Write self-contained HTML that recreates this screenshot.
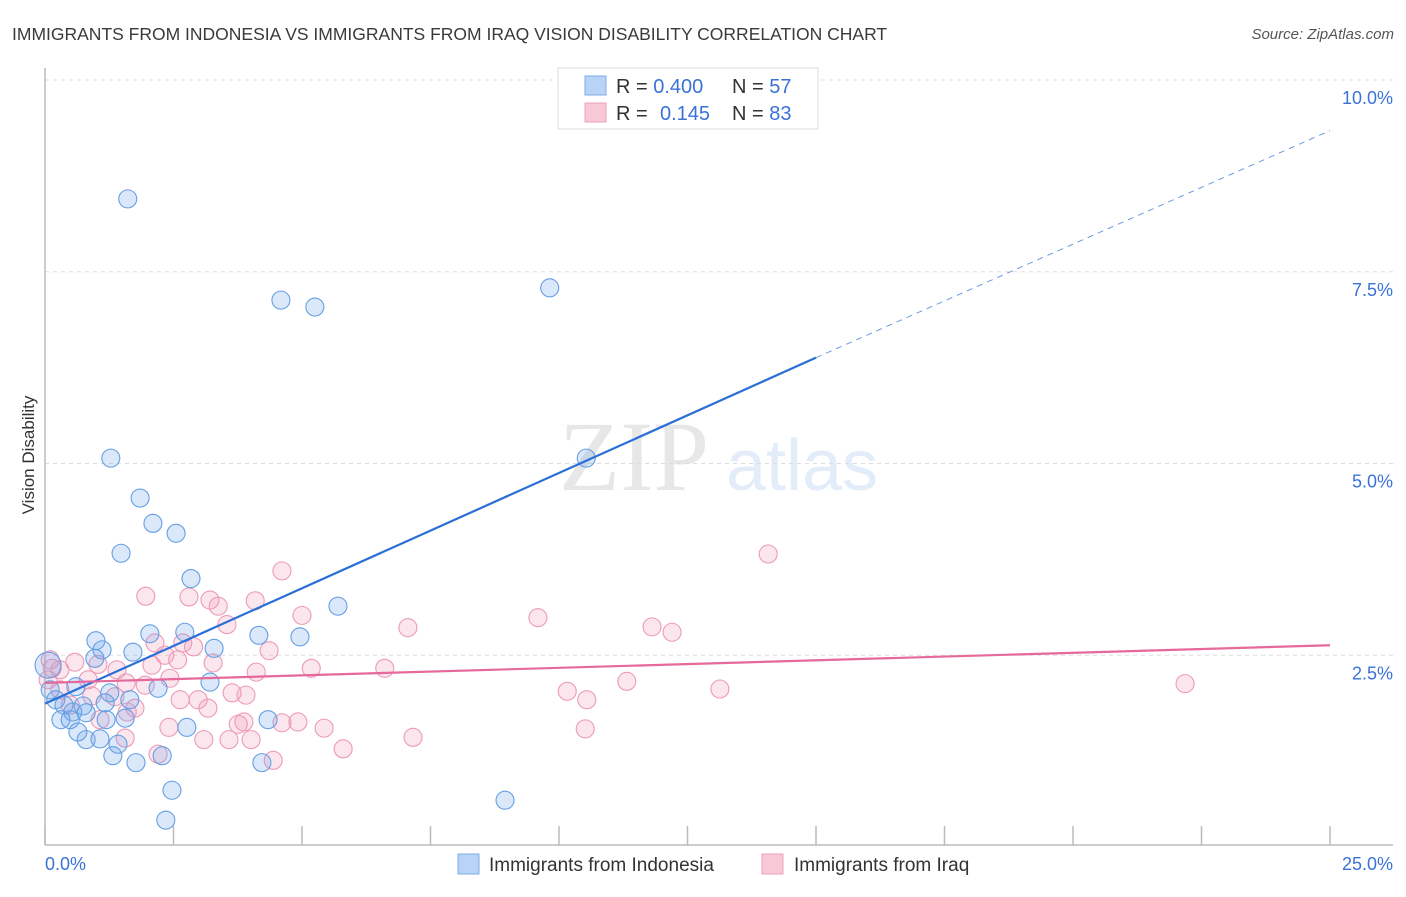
<!DOCTYPE html>
<html><head><meta charset="utf-8"><style>
body{margin:0;background:#fff;font-family:"Liberation Sans",sans-serif;}
svg text{font-family:"Liberation Sans",sans-serif;}
</style></head><body>
<svg id="chart" width="1406" height="892" viewBox="0 0 1406 892" xmlns="http://www.w3.org/2000/svg">
<text x="12" y="40" font-size="17.5" fill="#3a3a3a">IMMIGRANTS FROM INDONESIA VS IMMIGRANTS FROM IRAQ VISION DISABILITY CORRELATION CHART</text>
<text x="1394" y="39" font-size="15" fill="#555" font-style="italic" text-anchor="end">Source: ZipAtlas.com</text>
<g opacity="0.15">
<text x="634" y="490" font-size="100" style="font-family:'Liberation Serif',serif" fill="#666" text-anchor="middle">ZIP</text>
<text x="802" y="490" font-size="72" fill="#4a88dd" text-anchor="middle">atlas</text>
</g>
<g id="grid"></g>
<g id="axes"></g>
<g id="pts"></g>
<g id="trends"></g>
<text transform="translate(34,455) rotate(-90)" font-size="17" fill="#333" text-anchor="middle">Vision Disability</text>
<g>
<rect x="558" y="68" width="260" height="61" fill="#fff" stroke="#ddd"/>
<rect x="585" y="76" width="21" height="19" fill="#b8d3f5" stroke="#7eaee8"/>
<rect x="585" y="103" width="21" height="19" fill="#f9c8d6" stroke="#eea0ba"/>
<text x="616" y="93" font-size="20" fill="#333">R = <tspan fill="#3a72d8">0.400</tspan><tspan x="732">N = </tspan><tspan fill="#3a72d8">57</tspan></text>
<text x="616" y="120" font-size="20" fill="#333">R = <tspan x="660" fill="#3a72d8">0.145</tspan><tspan x="732">N = </tspan><tspan fill="#3a72d8">83</tspan></text>
</g>
<g>
<rect x="458" y="854" width="21" height="20" fill="#b8d3f5" stroke="#7eaee8"/>
<text x="489" y="871" font-size="19" fill="#333">Immigrants from Indonesia</text>
<rect x="762" y="854" width="21" height="20" fill="#f9c8d6" stroke="#eea0ba"/>
<text x="794" y="871" font-size="19" fill="#333">Immigrants from Iraq</text>
</g>
</svg>
<script>
const xTicks=[0,2.5,5,7.5,10,12.5,15,17.5,20,22.5,25];
const yTicks=[2.5,5,7.5,10];
const yTickLabels=["2.5%","5.0%","7.5%","10.0%"];
const xEndLabels=["0.0%","25.0%"];
const indoX=[1.61,4.59,5.25,9.82,1.28,10.53,1.85,2.10,2.55,1.48,2.84,5.70,2.04,2.72,4.16,4.96,0.99,1.11,3.29,1.71,0.97,0.06,3.21,2.20,1.26,1.65,0.60,0.10,0.21,0.37,0.74,1.17,1.56,0.54,0.80,0.31,1.19,2.76,4.34,0.64,0.80,1.07,1.42,1.32,1.77,2.28,4.22,2.47,2.35,8.95,0.49];
const indoY=[8.45,7.13,7.04,7.29,5.07,5.07,4.55,4.22,4.09,3.83,3.50,3.14,2.78,2.80,2.76,2.74,2.69,2.57,2.59,2.54,2.46,2.37,2.15,2.07,2.01,1.92,2.09,2.05,1.92,1.85,1.84,1.88,1.68,1.76,1.75,1.66,1.66,1.56,1.66,1.50,1.40,1.41,1.34,1.19,1.10,1.19,1.10,0.74,0.35,0.61,1.66];
const iraqX=[14.07,4.61,1.96,2.80,3.21,3.37,4.09,5.00,9.59,7.06,11.81,12.20,3.54,2.68,2.89,2.14,2.33,2.08,2.58,3.27,4.36,5.18,6.61,4.11,0.58,1.03,1.40,0.29,0.14,0.06,0.84,1.58,1.95,2.43,11.32,22.18,13.13,10.16,10.54,3.64,3.91,1.36,2.63,2.98,3.17,1.75,1.60,0.91,2.41,3.76,3.87,4.61,4.92,5.43,10.51,3.09,3.58,4.01,7.16,5.80,2.20,4.44,1.56,1.07,0.29,0.10,0.49];
const iraqY=[3.82,3.60,3.27,3.26,3.22,3.14,3.21,3.02,2.99,2.86,2.87,2.80,2.90,2.66,2.61,2.66,2.50,2.37,2.44,2.40,2.56,2.33,2.33,2.28,2.41,2.38,2.31,2.31,2.33,2.18,2.18,2.14,2.11,2.20,2.16,2.13,2.06,2.03,1.92,2.01,1.98,1.96,1.92,1.92,1.81,1.81,1.76,1.97,1.56,1.60,1.63,1.62,1.63,1.55,1.54,1.40,1.40,1.40,1.43,1.28,1.21,1.13,1.42,1.66,2.05,2.44,1.85];
const indoTrend=[[0,1.87],[15,6.38],[25,9.34]];
const iraqTrend=[[0,2.14],[25,2.63]];
const NS="http://www.w3.org/2000/svg";
const sx=v=>45+v*51.4, sy=v=>847-v*76.7;
function mk(tag,attrs,parent){const e=document.createElementNS(NS,tag);for(const k in attrs)e.setAttribute(k,attrs[k]);parent.appendChild(e);return e;}
const grid=document.getElementById('grid'),axes=document.getElementById('axes'),pts=document.getElementById('pts'),tr=document.getElementById('trends');
yTicks.forEach((t,i)=>{
 const l=mk('line',{x1:45,x2:1393,y1:sy(t),y2:sy(t),stroke:'#ddd','stroke-dasharray':'4,4'},grid);
 
 
 const tx=mk('text',{x:1393,y:sy(t)+24,'font-size':18,fill:'#3a72d8','text-anchor':'end'},axes);
 tx.textContent=yTickLabels[i];
 
 
});
mk('line',{x1:45,x2:45,y1:68,y2:845,stroke:'#bbb','stroke-width':1.5},axes);
mk('line',{x1:45,x2:1393,y1:845,y2:845,stroke:'#bbb','stroke-width':1.5},axes);
xTicks.forEach(t=>{
 const l=mk('line',{x1:sx(t),x2:sx(t),y1:826,y2:845,stroke:'#bbb','stroke-width':1.5},axes);
 
 
});
const xl0=mk('text',{x:45,y:870,'font-size':18,fill:'#3a72d8'},axes);xl0.textContent=xEndLabels[0];


const xl1=mk('text',{x:1393,y:870,'font-size':18,fill:'#3a72d8','text-anchor':'end'},axes);xl1.textContent=xEndLabels[1];


iraqX.forEach((x,i)=>{
 const c=mk('circle',{cx:sx(x),cy:sy(iraqY[i]),r:9,fill:'rgba(242,150,182,0.24)',stroke:'#ec9ab8','stroke-width':1.1},pts);
 
 
});
indoX.forEach((x,i)=>{
 const c=mk('circle',{cx:sx(x),cy:sy(indoY[i]),r:(i==21?13:9),fill:'rgba(110,165,235,0.25)',stroke:'#649fe3','stroke-width':1.1},pts);
 
 
});
const b1=mk('line',{x1:sx(indoTrend[0][0]),y1:sy(indoTrend[0][1]),x2:sx(indoTrend[1][0]),y2:sy(indoTrend[1][1]),stroke:'#2a6fd6','stroke-width':2.2},tr);


const b2=mk('line',{x1:sx(indoTrend[1][0]),y1:sy(indoTrend[1][1]),x2:sx(indoTrend[2][0]),y2:sy(indoTrend[2][1]),stroke:'#6a9be0','stroke-width':1,'stroke-dasharray':'6,5'},tr);


const p1=mk('line',{x1:sx(iraqTrend[0][0]),y1:sy(iraqTrend[0][1]),x2:sx(iraqTrend[1][0]),y2:sy(iraqTrend[1][1]),stroke:'#e5699a','stroke-width':2.2},tr);


</script>
</body></html>
